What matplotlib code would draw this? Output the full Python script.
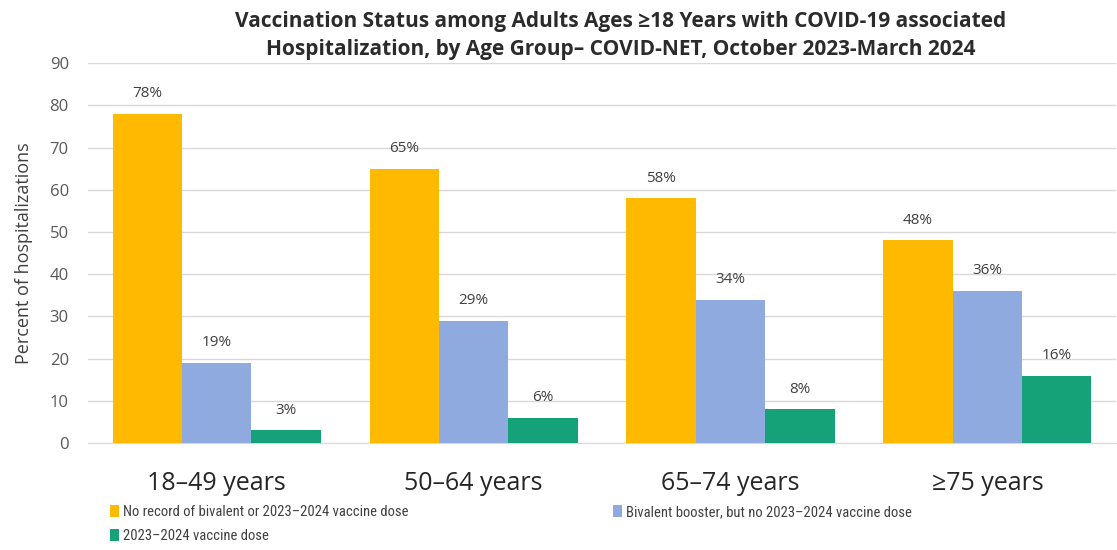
import matplotlib
matplotlib.use('Agg')
import matplotlib.pyplot as plt
import numpy as np

plt.rcParams.update({
    'font.family': ['Open Sans', 'DejaVu Sans'],
    'font.size': 12,
})

groups = ['18\u201349 years', '50\u201364 years', '65\u201374 years', '\u226575 years']
series = [
    'No record of bivalent or 2023\u20132024 vaccine dose',
    'Bivalent booster, but no 2023\u20132024 vaccine dose',
    '2023\u20132024 vaccine dose',
]
no_record = [78, 65, 58, 48]
bivalent_only = [19, 29, 34, 36]
updated_dose = [3, 6, 8, 16]

COLORS = ['#FFBA00', '#8EAADF', '#16A278']
TEXT = '#404040'
GRID = '#D9D9D9'

fig = plt.figure(figsize=(11.17, 5.5), dpi=100)
ax = fig.add_axes([0.079, 0.1945, 0.92, 0.6905])

x = np.arange(len(groups))
width = 0.27
values = [no_record, bivalent_only, updated_dose]
handles = []
for i, (vals, name) in enumerate(zip(values, series)):
    pos = x + (i - 1) * width
    bars = ax.bar(pos, vals, width=width, color=COLORS[i], label=name, zorder=3)
    handles.append(bars)
    for p, v in zip(pos, vals):
        ax.text(p, v + 3, f'{v}%', ha='center', va='bottom', fontsize=11, color=TEXT)

ax.set_ylim(0, 90)
ax.set_yticks(range(0, 91, 10))
ax.set_xlim(-0.5, len(groups) - 0.5)
ax.set_xticks(x)
ax.set_xticklabels(groups, fontsize=18, color='#262626')
ax.tick_params(axis='x', length=0, pad=20)
ax.tick_params(axis='y', length=0, labelsize=12, colors='#595959', pad=14)
ax.grid(axis='y', color=GRID, linewidth=1, zorder=0)
for s in ['top', 'right', 'left']:
    ax.spines[s].set_visible(False)
ax.spines['bottom'].set_color(GRID)

ax.set_ylabel('Percent of hospitalizations', fontsize=13, color='#404040', labelpad=12)

fig.suptitle('Vaccination Status among Adults Ages \u226518 Years with COVID-19 associated\n'
             'Hospitalization, by Age Group\u2013 COVID-NET, October 2023-March 2024',
             fontsize=15, fontweight='bold', color='#2B2B2B', x=0.556, y=0.98,
             linespacing=1.45)

# row-major legend: first two entries on top row, third below
order = [0, 2, 1]
leg = fig.legend(handles=[handles[k] for k in order], labels=[series[k] for k in order],
                 loc='lower left', bbox_to_anchor=(0.087, -0.012), ncol=2,
                 frameon=False,
                 prop={'family': ['DejaVu Sans Condensed', 'Roboto Condensed', 'Roboto'], 'size': 10.5},
                 handlelength=0.6, handleheight=0.9,
                 handletextpad=0.3, columnspacing=14, labelspacing=0.7)
for t in leg.get_texts():
    t.set_color(TEXT)

plt.savefig('out.png', dpi=100, facecolor='white')
plt.close()
